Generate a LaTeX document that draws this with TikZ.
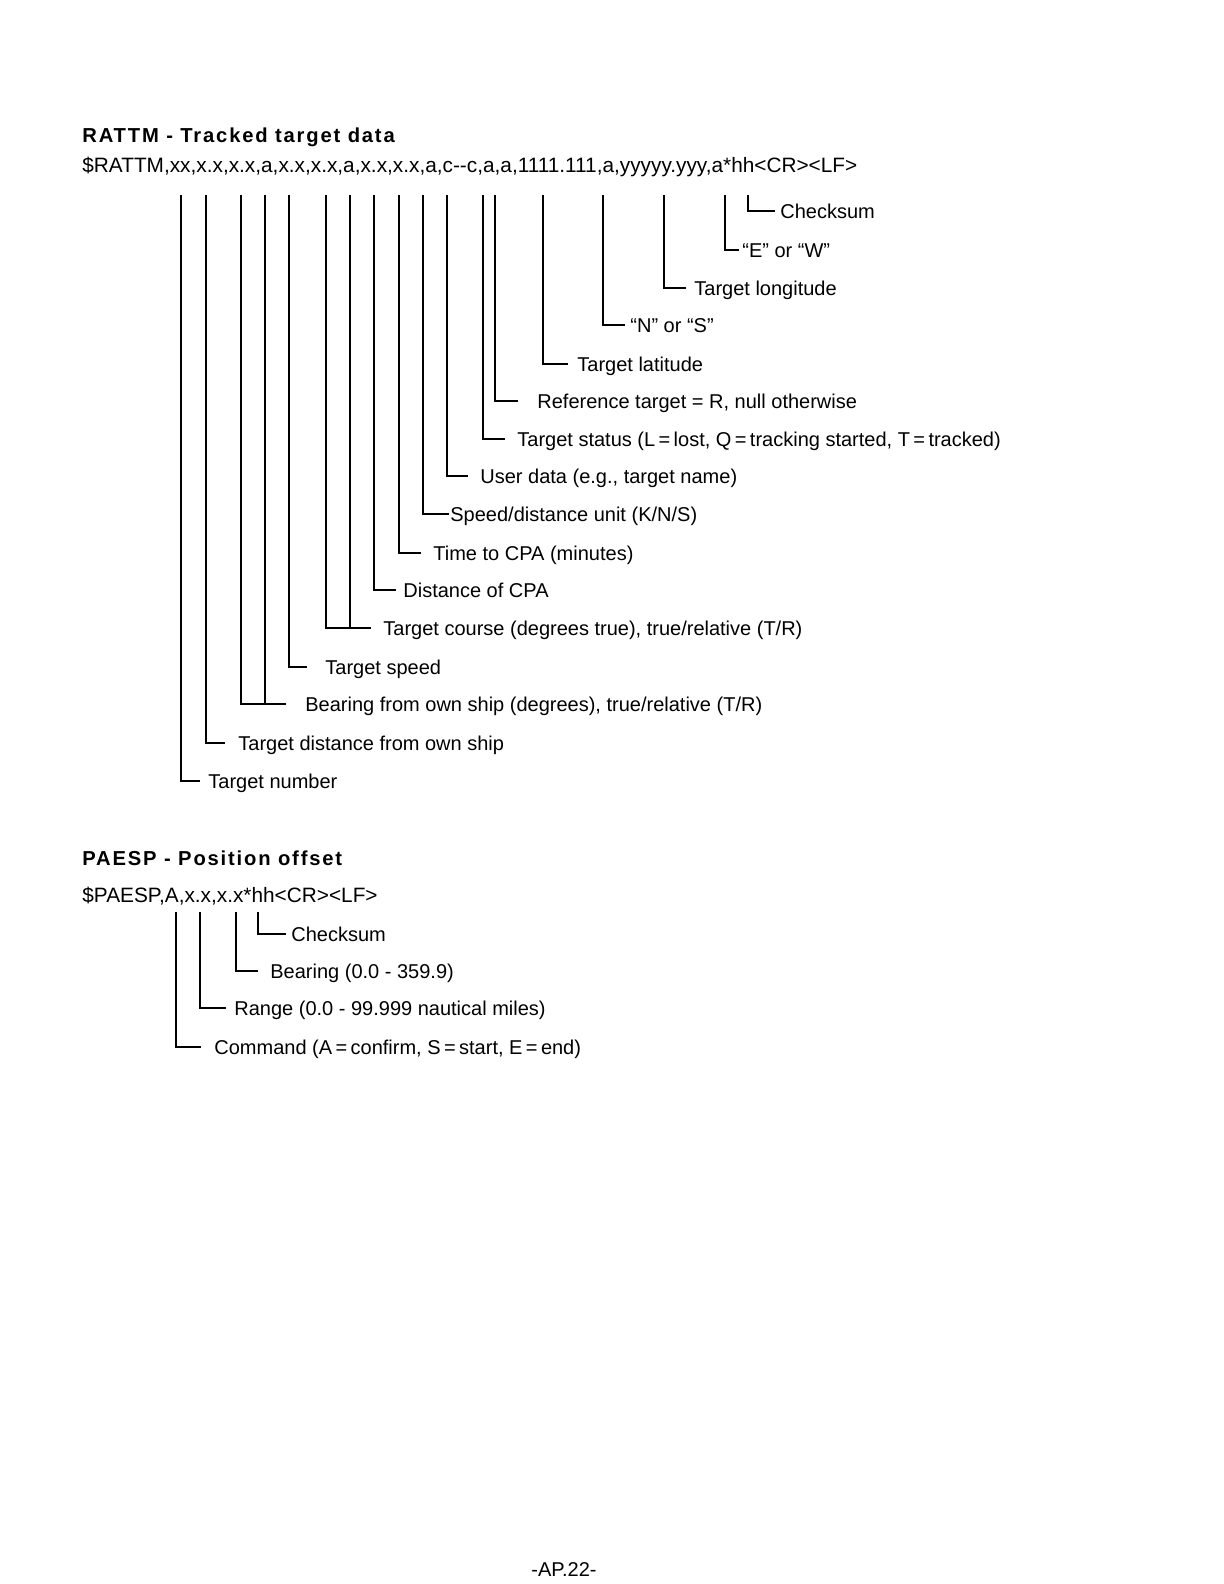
\documentclass[tikz,border=0pt]{standalone}
\usepackage{fontspec}
\setmainfont{Liberation Sans}
\newcommand{\eqs}{\hspace{0.17em}=\hspace{0.17em}}
\begin{document}
\begin{tikzpicture}[x=0.5pt,y=-0.5pt,
  lbl/.style={anchor=west, inner sep=0pt, text height=7.2pt, text depth=0pt, font=\fontsize{10}{12}\selectfont},
  msg/.style={lbl, font=\fontsize{10.4}{12}\selectfont},
  hdr/.style={lbl, font=\fontsize{10.1}{12}\bfseries\addfontfeatures{LetterSpace=9}},
  lead/.style={line width=0.6pt}]
  \useasboundingbox (0,0) rectangle (1224,1584);
  %RATTM sentence
  \node[hdr] (rattm) at (82,135) {RATTM - Tracked target data};
  \node[msg] (rmsg) at (82,165) {\$RATTM,xx,x.x,x.x,a,x.x,x.x,a,x.x,x.x,a,c{-}{-}c,a,a,1111.111,a,yyyyy.yyy,a*hh<CR><LF>};
  \foreach \x [count=\i] in {181,206,241,265,289,326,350,374,399,423,447,483,495,543,603,664,725,748}
    \coordinate (r\i) at (\x,195);
  \node[lbl] (num)  at (208,781) {Target number};
  \node[lbl] (dist) at (238,743) {Target distance from own ship};
  \node[lbl] (brg)  at (305,704) {Bearing from own ship (degrees), true/relative (T/R)};
  \node[lbl] (spd)  at (325,667) {Target speed};
  \node[lbl] (crs)  at (383,628) {Target course (degrees true), true/relative (T/R)};
  \node[lbl] (dcpa) at (403,590) {Distance of CPA};
  \node[lbl] (tcpa) at (433,553) {Time to CPA (minutes)};
  \node[lbl] (unit) at (450,514) {Speed/distance unit (K/N/S)};
  \node[lbl] (user) at (480,476) {User data (e.g., target name)};
  \node[lbl] (stat) at (517,439) {Target status (L\eqs lost, Q\eqs tracking started, T\eqs tracked)};
  \node[lbl] (ref)  at (537,401) {Reference target = R, null otherwise};
  \node[lbl] (lat)  at (577,364) {Target latitude};
  \node[lbl] (ns)   at (630,325) {“N” or “S”};
  \node[lbl] (lon)  at (694,288) {Target longitude};
  \node[lbl] (ew)   at (742,250) {“E” or “W”};
  \node[lbl] (sum)  at (780,211) {Checksum};
  \foreach \a/\b/\g in {r1/num/4, r2/dist/6.5, r3/brg/9.5, r5/spd/9, r6/crs/6, r8/dcpa/3.5,
      r9/tcpa/6, r10/unit/0.5, r11/user/6, r12/stat/6, r13/ref/9.5, r14/lat/4.5,
      r15/ns/2.5, r16/lon/4, r17/ew/1.5, r18/sum/2.5}
    \draw[lead] (\a) |- ([xshift=-\g pt]\b.west);
  \draw[lead] (r4) -- (r4 |- brg.west);
  \draw[lead] (r7) -- (r7 |- crs.west);
  %PAESP sentence
  \node[hdr] (paesp) at (82,858) {PAESP - Position offset};
  \node[msg] (pmsg) at (82,895) {\$PAESP,A,x.x,x.x*hh<CR><LF>};
  \foreach \x [count=\i] in {176,200,236,258}
    \coordinate (p\i) at (\x,912);
  \node[lbl] (cmd)  at (214,1047) {Command (A\eqs confirm, S\eqs start, E\eqs end)};
  \node[lbl] (rng)  at (234,1008) {Range (0.0 - 99.999 nautical miles)};
  \node[lbl] (pbrg) at (270,971) {Bearing (0.0 - 359.9)};
  \node[lbl] (psum) at (291,934) {Checksum};
  \foreach \a/\b/\g in {p1/cmd/6.5, p2/rng/4, p3/pbrg/6, p4/psum/2.5}
    \draw[lead] (\a) |- ([xshift=-\g pt]\b.west);
  \node[lbl, anchor=center] (page) at (564,1569) {-AP.22-};
\end{tikzpicture}
\end{document}
